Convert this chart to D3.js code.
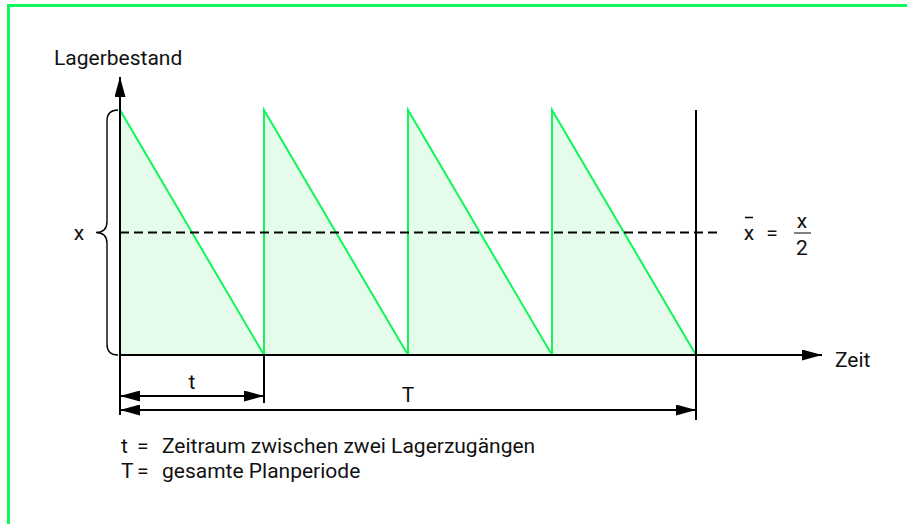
<!DOCTYPE html>
<html>
<head>
<meta charset="utf-8">
<script src="https://cdn.jsdelivr.net/npm/d3@7"></script>
<style>
  html, body { margin: 0; padding: 0; background: #fff; }
  svg { display: block; }
  text { font-family: Roboto, "Liberation Sans", sans-serif; fill: #111; }
</style>
</head>
<body>
<div id="chart"></div>
<script>
// Inventory cycles: each order arrives at the start of a cycle (time in units of t)
const cycleStarts = [0, 1, 2, 3];
const cycleEnds = [1, 2, 3, 4];
const stockLevels = [1, 1, 1, 1];      // stock right after each delivery (x)
const averageStock = 0.5;              // x̄ = x / 2
const planPeriod = 4;                  // T = 4 · t
const axisLabels = { y: "Lagerbestand", x: "Zeit" };
const legendRows = [
  { sym: "t", text: "Zeitraum zwischen zwei Lagerzugängen" },
  { sym: "T", text: "gesamte Planperiode" }
];

const W = 907, H = 524;
const GREEN = "#0ff758";
const FILL = "#e6fcea";
const INK = "#000";

const svg = d3.select("#chart").append("svg")
  .attr("width", W).attr("height", H);

// Frame
svg.append("rect")
  .attr("x", 8.5).attr("y", 5.5)
  .attr("width", W + 20).attr("height", H + 20)
  .attr("fill", "none").attr("stroke", GREEN).attr("stroke-width", 3);

const x = d3.scaleLinear().domain([0, 4]).range([120, 696]);
const y = d3.scaleLinear().domain([0, 1]).range([355, 110]);

const xAxisEnd = 4.875;   // time where the x axis arrow ends
const yAxisEnd = 1.135;   // stock level where the y axis arrow ends
const dashEnd = 4.18;

// Arrowhead markers
const defs = svg.append("defs");
function marker(id, orient) {
  defs.append("marker")
    .attr("id", id)
    .attr("viewBox", "0 0 20 11")
    .attr("refX", 20).attr("refY", 5.5)
    .attr("markerWidth", 20).attr("markerHeight", 11)
    .attr("markerUnits", "userSpaceOnUse")
    .attr("orient", orient)
    .append("path").attr("d", "M0,0 L20,5.5 L0,11 Z").attr("fill", INK);
}
marker("arrowEnd", "auto");
marker("arrowStart", "auto-start-reverse");

// Sawtooth stock curve
const cycles = cycleStarts.map((s, i) => ({ s, e: cycleEnds[i], q: stockLevels[i] }));
const area = svg.append("g");
cycles.forEach(c => {
  const pts = [[c.s, 0], [c.s, c.q], [c.e, 0]];
  area.append("path")
    .attr("d", d3.line().x(d => x(d[0])).y(d => y(d[1]))(pts) + "Z")
    .attr("fill", FILL).attr("stroke", "none");
});
cycles.forEach(c => {
  const pts = [[c.s, 0], [c.s, c.q], [c.e, 0]];
  area.append("path")
    .attr("d", d3.line().x(d => x(d[0])).y(d => y(d[1]))(pts))
    .attr("fill", "none").attr("stroke", GREEN).attr("stroke-width", 2)
    .attr("stroke-linejoin", "miter");
});

// Average stock line
svg.append("line")
  .attr("x1", x(0)).attr("x2", x(dashEnd))
  .attr("y1", y(averageStock)).attr("y2", y(averageStock))
  .attr("stroke", INK).attr("stroke-width", 2).attr("stroke-dasharray", "9,5");

// End of plan period
svg.append("line")
  .attr("x1", x(planPeriod)).attr("x2", x(planPeriod))
  .attr("y1", y(1)).attr("y2", 420)
  .attr("stroke", INK).attr("stroke-width", 2);

// Axes
svg.append("line")
  .attr("x1", x(0)).attr("x2", x(xAxisEnd))
  .attr("y1", y(0)).attr("y2", y(0))
  .attr("stroke", INK).attr("stroke-width", 2)
  .attr("marker-end", "url(#arrowEnd)");
svg.append("line")
  .attr("x1", x(0)).attr("x2", x(0))
  .attr("y1", 415).attr("y2", y(yAxisEnd))
  .attr("stroke", INK).attr("stroke-width", 2)
  .attr("marker-end", "url(#arrowEnd)");

svg.append("text").text(axisLabels.y)
  .attr("x", 54).attr("y", 65).attr("font-size", 21);
svg.append("text").text(axisLabels.x)
  .attr("x", 835).attr("y", 367).attr("font-size", 21);

// Brace spanning the maximum stock x
const bx = 107, tipX = 96, r = 11;
const yt = y(1), yb = y(0), ym = y(averageStock);
const bracePath = [
  `M${x(0) - 2},${yt}`,
  `Q${bx},${yt} ${bx},${yt + r}`,
  `L${bx},${ym - r}`,
  `Q${bx},${ym} ${tipX},${ym}`,
  `Q${bx},${ym} ${bx},${ym + r}`,
  `L${bx},${yb - r}`,
  `Q${bx},${yb} ${x(0) - 2},${yb}`
].join(" ");
svg.append("path").attr("d", bracePath)
  .attr("fill", "none").attr("stroke", INK).attr("stroke-width", 1.4);
svg.append("text").text("x")
  .attr("x", 79).attr("y", ym + 7).attr("text-anchor", "middle").attr("font-size", 21);

// Formula x̄ = x / 2
const fy = y(averageStock);
svg.append("text").text("x")
  .attr("x", 749).attr("y", fy + 7).attr("text-anchor", "middle").attr("font-size", 21);
svg.append("line")
  .attr("x1", 745).attr("x2", 753).attr("y1", fy - 15).attr("y2", fy - 15)
  .attr("stroke", INK).attr("stroke-width", 1.5);
svg.append("text").text("=")
  .attr("x", 772).attr("y", fy + 7).attr("text-anchor", "middle").attr("font-size", 21);
svg.append("text").text("x")
  .attr("x", 802).attr("y", fy - 5).attr("text-anchor", "middle").attr("font-size", 21);
svg.append("line")
  .attr("x1", 794).attr("x2", 811).attr("y1", fy + 0.5).attr("y2", fy + 0.5)
  .attr("stroke", INK).attr("stroke-width", 1);
svg.append("text").text("2")
  .attr("x", 802).attr("y", fy + 22).attr("text-anchor", "middle").attr("font-size", 21);

// Dimension lines t and T
const tY = 396, TY = 410;
svg.append("line")
  .attr("x1", x(cycleEnds[0])).attr("x2", x(cycleEnds[0]))
  .attr("y1", y(0)).attr("y2", 403)
  .attr("stroke", INK).attr("stroke-width", 2);
svg.append("line")
  .attr("x1", x(cycleStarts[0])).attr("x2", x(cycleEnds[0]))
  .attr("y1", tY).attr("y2", tY)
  .attr("stroke", INK).attr("stroke-width", 2)
  .attr("marker-start", "url(#arrowStart)").attr("marker-end", "url(#arrowEnd)");
svg.append("line")
  .attr("x1", x(0)).attr("x2", x(planPeriod))
  .attr("y1", TY).attr("y2", TY)
  .attr("stroke", INK).attr("stroke-width", 2)
  .attr("marker-start", "url(#arrowStart)").attr("marker-end", "url(#arrowEnd)");
svg.append("text").text("t")
  .attr("x", x((cycleStarts[0] + cycleEnds[0]) / 2)).attr("y", 389)
  .attr("text-anchor", "middle").attr("font-size", 21);
svg.append("text").text("T")
  .attr("x", x(planPeriod / 2)).attr("y", 402)
  .attr("text-anchor", "middle").attr("font-size", 21);

// Legend
legendRows.forEach((row, i) => {
  const ly = 453 + i * 25;
  svg.append("text").text(row.sym).attr("x", 121).attr("y", ly).attr("font-size", 21);
  svg.append("text").text("=").attr("x", 137).attr("y", ly).attr("font-size", 21);
  svg.append("text").text(row.text).attr("x", 162).attr("y", ly).attr("font-size", 21);
});
</script>
</body>
</html>
